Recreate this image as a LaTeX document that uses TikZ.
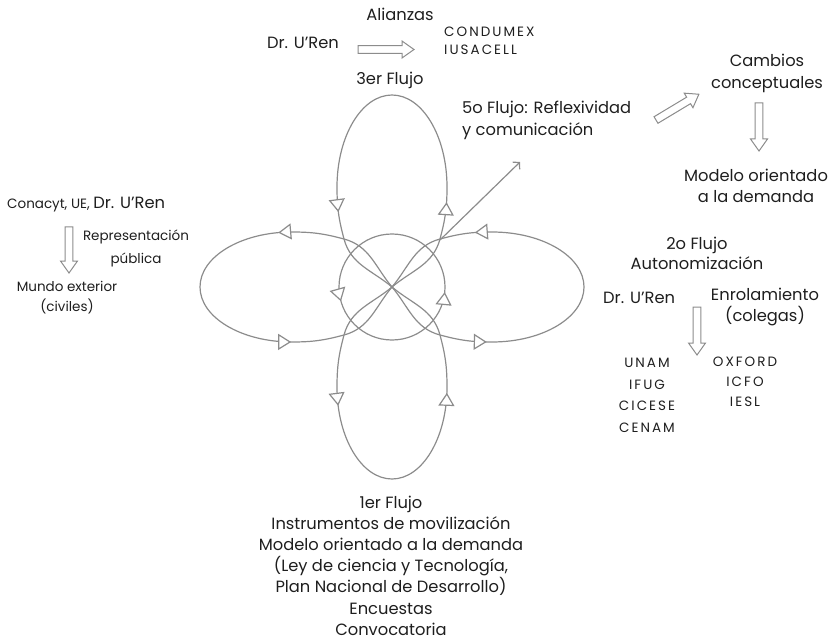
\documentclass[tikz,border=0pt]{standalone}
\usepackage{fontspec}
\setmainfont{Poppins}
\usetikzlibrary{arrows.meta,decorations.markings}
\definecolor{loopgray}{HTML}{8C8C8C}
\definecolor{txt}{HTML}{1E1E1E}
\newcommand{\bigfont}{\fontsize{16.3}{21.2}\selectfont}
\newcommand{\smallfont}{\fontsize{13.5}{21}\selectfont}
\newcommand{\capsfont}{\fontsize{13.5}{21}\selectfont\addfontfeature{LetterSpace=15}}
\tikzset{
  big/.style={font=\bigfont, text=txt, inner sep=0pt, align=center},
  small/.style={font=\smallfont, text=txt, inner sep=0pt, align=center},
  caps/.style={font=\capsfont, text=txt, inner sep=0pt, align=center},
  loopline/.style={draw=loopgray, line width=1.2pt},
  tri/.tip={Triangle[length=13pt,width=16pt,fill=white,line width=1.2pt]},
  blockarr/.style={draw=loopgray, line width=1pt, fill=white, line join=miter},
}
\newcommand{\petal}[3]{%
  \begin{scope}[shift={(O)}, rotate=#1]
    \draw[loopline, postaction={decorate}, decoration={markings,
        mark=at position #2pt with {\arrow{tri}},
        mark=at position #3pt with {\arrow{tri}}}]
      (0,0) to[out=40,in=-105] (48,48) to[out=75,in=-90] (55,100)
      arc[start angle=0,end angle=180,x radius=55,y radius=92]
      to[out=-90,in=105] (-48,48) to[out=-75,in=140] (0,0);
  \end{scope}}
\newcommand{\blockarrow}[4]{%
  \draw[blockarr, shift={(#1,#2)}, rotate=#3]
    (0,-3.8) -- (#4-12,-3.8) -- (#4-12,-8.5) -- (#4,0) -- (#4-12,8.5) -- (#4-12,3.8) -- (0,3.8) -- cycle;}
\begin{document}
\begin{tikzpicture}[x=1pt,y=1pt]
\useasboundingbox (0,0) rectangle (832,641);
\coordinate (O) at (392,354);
% petals: top, left, bottom, right
\petal{0}{107}{382}
\petal{90}{136}{356}
\petal{180}{141}{351}
\petal{-90}{117}{374}
% central circle
\draw[loopline, postaction={decorate}, decoration={markings,
    mark=at position 181pt with {\arrow{tri}},
    mark=at position 328pt with {\arrow{tri}}}]
  ([shift={(0:53)}]O) arc[start angle=0,end angle=360,radius=53];
% fifth flow arrow
\coordinate (f5s) at (440,401);
\coordinate (f5e) at (520,479);
\draw[loopline, -{Straight Barb[length=4.5pt,width=10pt,line width=1.2pt]}] (f5s) -- (f5e);

% block arrows
\blockarrow{358}{591.5}{0}{56}
\blockarrow{656}{521}{31}{50}
\blockarrow{759}{538}{-90}{48}
\blockarrow{697}{334}{-90}{48}
\blockarrow{69}{414}{-90}{46}

% texts
\node[big] (alianzas) at (400,627) {Alianzas};
\node[big] (dr1) at (303,598) {Dr. U’Ren};
\node[caps, align=left, anchor=west] (condumex) at (444,600) {CONDUMEX\\[-3pt]IUSACELL};
\node[big] (f3) at (390,561) {3er Flujo};
\node[big, align=left, anchor=west] (f5) at (462,520.5) {5o Flujo: Reflexividad\\[1pt]y comunicación};
\node[big] (cambios) at (767,567.5) {Cambios\\[1pt]conceptuales};
\node[big] (modelo) at (756,455) {Modelo orientado\\[0pt]a la demanda};
\node[big] (f2) at (697,388) {2o Flujo\\[-1pt]Autonomización};
\node[big, anchor=west] (dr2) at (603,343) {Dr. U’Ren};
\node[big] (enrol) at (765,334) {Enrolamiento\\[-1pt](colegas)};
\node[caps] (unam) at (647,245.5) {UNAM\\[0.5pt]IFUG\\[0.5pt]CICESE\\[0.5pt]CENAM};
\node[caps] (oxford) at (745,259) {OXFORD\\[-1pt]ICFO\\[-1pt]IESL};
\node[anchor=west, inner sep=0pt, text=txt] (conacyt) at (7,436) {\smallfont Conacyt, UE, \bigfont Dr. U’Ren};
\node[small] (repr) at (136,392.5) {Representación\\[2pt]pública};
\node[small] (mundo) at (67,343) {Mundo exterior\\[-1pt](civiles)};
\node[big] (f1) at (391,75.5) {1er Flujo\\Instrumentos de movilización\\Modelo orientado a la demanda\\(Ley de ciencia y Tecnología,\\Plan Nacional de Desarrollo)\\Encuestas\\Convocatoria};
\end{tikzpicture}
\end{document}
